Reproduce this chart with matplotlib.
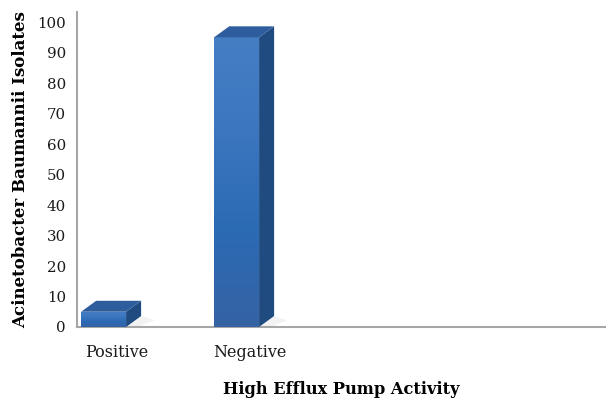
import numpy as np
import matplotlib.pyplot as plt
from matplotlib.patches import Polygon, Rectangle
from matplotlib.colors import LinearSegmentedColormap

categories = ['Positive', 'Negative']
values = [5, 95]
yticks = [0, 10, 20, 30, 40, 50, 60, 70, 80, 90, 100]

fig = plt.figure(figsize=(6.06, 4.0), dpi=100)
ax = fig.add_axes([77 / 606, (400 - 327) / 400, 528 / 606, 315 / 400])

ax.set_xlim(-0.2, 3.77)
ax.set_ylim(0, 103.3)

w = 0.338       # front face width
dx = 0.113      # depth offset (x)
dy = 3.6        # depth offset (y)

front_cmap = LinearSegmentedColormap.from_list(
    'front', ['#3563a4', '#2b6ab4', '#3b76bf', '#467ec4'])

for i, v in enumerate(values):
    x0 = i - w / 2
    x1 = i + w / 2
    # soft floor shadow
    ax.add_patch(Polygon([(x1, 0), (x1 + dx, dy), (x1 + dx + 0.1, dy * 0.6),
                          (x1 + 0.08, 0)], closed=True, facecolor='#e6e6e6',
                         edgecolor='none', alpha=0.5, zorder=1))
    # front face with vertical gradient
    rect = Rectangle((x0, 0), w, v, facecolor='none', edgecolor='none')
    ax.add_patch(rect)
    grad = np.linspace(0, 1, 256).reshape(-1, 1)
    im = ax.imshow(grad, cmap=front_cmap, origin='lower', aspect='auto',
                   extent=(x0, x1, 0, v), zorder=3)
    im.set_clip_path(rect)
    # side face
    ax.add_patch(Polygon([(x1, 0), (x1 + dx, dy), (x1 + dx, v + dy), (x1, v)],
                         closed=True, facecolor='#1f4b80', edgecolor='none',
                         zorder=3))
    # top face
    ax.add_patch(Polygon([(x0, v), (x1, v), (x1 + dx, v + dy), (x0 + dx, v + dy)],
                         closed=True, facecolor='#2d5d9c', edgecolor='none',
                         zorder=3))

ax.set_xticks([i + 0.1 for i in range(len(categories))])
ax.set_xticklabels(categories)
ax.set_yticks(yticks)

for s in ['top', 'right']:
    ax.spines[s].set_visible(False)
for s in ['left', 'bottom']:
    ax.spines[s].set_color('#a6a6a6')
    ax.spines[s].set_linewidth(1.5)

ax.tick_params(axis='both', length=0, colors='#1a1a1a')
ax.tick_params(axis='x', pad=12, labelsize=11.5)
ax.tick_params(axis='y', pad=8, labelsize=10.8)
for lab in ax.get_xticklabels() + ax.get_yticklabels():
    lab.set_family('DejaVu Serif')

ax.set_xlabel('High Efflux Pump Activity', fontsize=11.7, fontweight='bold',
              family='DejaVu Serif', labelpad=15)
ax.set_ylabel('Acinetobacter Baumannii Isolates', fontsize=12, fontweight='bold',
              family='DejaVu Serif', labelpad=6)

fig.savefig('out.png', dpi=100)
